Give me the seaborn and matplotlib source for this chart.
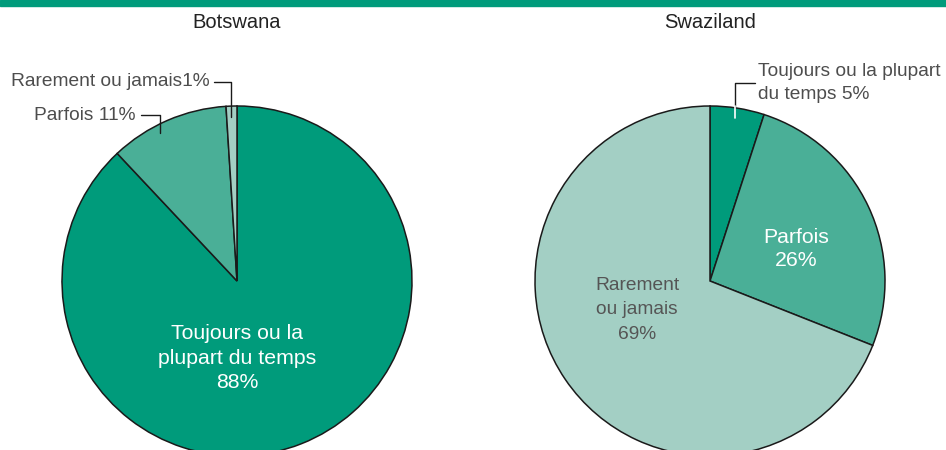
import matplotlib
matplotlib.use("Agg")
import matplotlib.pyplot as plt
import seaborn as sns

sns.set_theme(style="white")
plt.rcParams["font.family"] = ["Liberation Sans", "DejaVu Sans"]

# Données
pays = ["Botswana", "Swaziland"]
categories = ["Toujours ou la plupart du temps", "Parfois", "Rarement ou jamais"]
botswana = [88, 11, 1]
swaziland = [5, 26, 69]
couleurs = ["#009b7b", "#4aaf97", "#a3cfc4"]

fig = plt.figure(figsize=(9.46, 4.5), dpi=100)
ax = fig.add_axes([0, 0, 1, 1])

H = 450
rayon = 175
centres = [(237, H - 281), (710, H - 281)]

for valeurs, centre in zip([botswana, swaziland], centres):
    ax.pie(
        valeurs,
        colors=couleurs,
        startangle=90,
        counterclock=False,
        center=centre,
        radius=rayon,
        wedgeprops={"edgecolor": "#1a1a1a", "linewidth": 1.1},
    )

ax.set_xlim(0, 946)
ax.set_ylim(0, H)
ax.set_aspect("equal")
ax.axis("off")

# Bandeau vert en haut
ax.add_patch(plt.Rectangle((0, H - 6), 946, 6, color="#009b7b", clip_on=False))

gris = "#4d4d4d"
# Titres
for nom, (cx, _) in zip(pays, centres):
    ax.text(cx, H - 23, nom, ha="center", va="center", fontsize=14.5, color="#222222")

# Botswana : étiquettes
ax.text(237, H - 358, f"Toujours ou la\nplupart du temps\n{botswana[0]}%",
        ha="center", va="center", fontsize=15.3, color="white", linespacing=1.36)
ax.text(135, H - 115, f"Parfois {botswana[1]}%", ha="right", va="center",
        fontsize=13.8, color=gris)
ax.plot([141, 160, 160], [H - 115, H - 115, H - 133], color="#1a1a1a", lw=1)
ax.text(210, H - 82, f"Rarement ou jamais{botswana[2]}%", ha="right", va="center",
        fontsize=13.8, color=gris)
ax.plot([214, 231, 231], [H - 82, H - 82, H - 117], color="#1a1a1a", lw=1)

# Swaziland : étiquettes
ax.text(758, H - 83, f"Toujours ou la plupart\ndu temps {swaziland[0]}%",
        ha="left", va="center", fontsize=13.8, color=gris, linespacing=1.45)
ax.plot([755, 735, 735], [H - 83, H - 83, H - 106], color="#1a1a1a", lw=1)
ax.plot([735, 735], [H - 106, H - 118], color="white", lw=1.2)
ax.text(796, H - 249, f"Parfois\n{swaziland[1]}%", ha="center", va="center",
        fontsize=15.3, color="white", linespacing=1.28)
ax.text(637, H - 310, f"Rarement\nou jamais\n{swaziland[2]}%", ha="center", va="center",
        fontsize=13.8, color="#555555", linespacing=1.58)

fig.savefig("out.png", dpi=100)
